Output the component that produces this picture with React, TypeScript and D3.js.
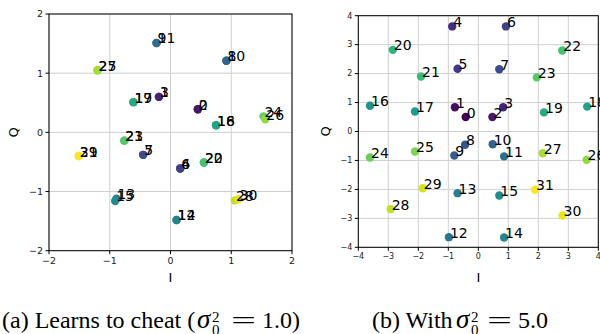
import React from "react";
import * as d3 from "d3";

const W = 600;
const H = 334;

// (a) sigma0^2 = 1.0 : points come in pairs
const leftI = [0.45, -0.19, 0.45, -0.19, 0.16, -0.45, 0.16, -0.45, 0.92, -0.23, 0.92, -0.23, 0.1, -0.89, 0.1, -0.91,
  0.75, -0.61, 0.75, -0.61, 0.55, -0.76, 0.55, -0.76, 1.53, -1.2, 1.56, -1.2, 1.06, -1.51, 1.12, -1.51];
const leftQ = [0.39, 0.6, 0.39, 0.6, -0.61, -0.38, -0.61, -0.38, 1.21, 1.51, 1.21, 1.51, -1.48, -1.12, -1.48, -1.16,
  0.12, 0.51, 0.12, 0.51, -0.51, -0.14, -0.51, -0.14, 0.27, 1.05, 0.22, 1.05, -1.15, -0.4, -1.13, -0.4];

// (b) sigma0^2 = 5.0
const rightI = [-0.42, -0.78, 0.47, 0.83, -0.87, -0.69, 0.92, 0.7, -0.44, -0.8, 0.48, 0.86, -0.98, -0.69, 0.86, 0.7,
  -3.61, -2.11, 3.63, 2.19, -2.85, -1.91, 2.8, 1.95, -3.61, -2.11, 3.61, 2.15, -2.92, -1.85, 2.81, 1.89];
const rightQ = [0.5, 0.84, 0.5, 0.84, 3.63, 2.17, 3.63, 2.15, -0.46, -0.83, -0.44, -0.86, -3.65, -2.13, -3.66, -2.21,
  0.89, 0.69, 0.86, 0.66, 2.82, 1.9, 2.8, 1.87, -0.9, -0.69, -0.98, -0.75, -2.68, -1.96, -2.9, -2.01];

const leftTicks = [-2, -1, 0, 1, 2];
const rightTicks = [-4, -3, -2, -1, 0, 1, 2, 3, 4];

const fmt = (v: number) => (v < 0 ? "\u2212" + Math.abs(v) : String(v));

type PanelProps = {
  I: number[];
  Q: number[];
  ticks: number[];
  x: d3.ScaleLinear<number, number>;
  y: d3.ScaleLinear<number, number>;
  tickSize: number;
  yLabelX: number;
};

const Panel = ({ I, Q, ticks, x, y, tickSize, yLabelX }: PanelProps) => {
  const [x0, x1] = x.range();
  const [y0, y1] = y.range();
  const color = (i: number) => d3.interpolateViridis(i / (I.length - 1));
  return (
    <g>
      {ticks.map((t) => (
        <g key={"g" + t}>
          <line x1={x(t)} x2={x(t)} y1={y0} y2={y1} stroke="#cfcfcf" strokeWidth={1} />
          <line x1={x0} x2={x1} y1={y(t)} y2={y(t)} stroke="#cfcfcf" strokeWidth={1} />
        </g>
      ))}
      {I.map((v, i) => (
        <circle key={"c" + i} cx={x(v)} cy={y(Q[i])} r={4.2} fill={color(i)} />
      ))}
      {I.map((v, i) => (
        <text key={"t" + i} x={x(v) + 1} y={y(Q[i]) + 0.5} fontSize={14} fill="#000">
          {i}
        </text>
      ))}
      <rect x={x0} y={y1} width={x1 - x0} height={y0 - y1} fill="none" stroke="#000" strokeWidth={1} />
      {ticks.map((t) => (
        <g key={"k" + t} fontSize={tickSize} fill="#222">
          <line x1={x(t)} x2={x(t)} y1={y0} y2={y0 + 3.5} stroke="#000" />
          <text x={x(t)} y={y0 + 5 + tickSize * 0.85} textAnchor="middle">
            {fmt(t)}
          </text>
          <line x1={x0 - 3.5} x2={x0} y1={y(t)} y2={y(t)} stroke="#000" />
          <text x={x0 - 6} y={y(t) + tickSize * 0.35} textAnchor="end">
            {fmt(t)}
          </text>
        </g>
      ))}
      <text x={(x0 + x1) / 2} y={282} fontSize={13} textAnchor="middle">
        I
      </text>
      <text
        transform={`translate(${yLabelX},${(y0 + y1) / 2}) rotate(-90)`}
        fontSize={13}
        textAnchor="middle"
        dominantBaseline="middle"
      >
        Q
      </text>
    </g>
  );
};

// caption with sigma_0^2 typeset by hand
const Caption = ({ lead, x, sx, ex, vx, value }: { lead: string; x: number; sx: number; ex: number; vx: number; value: string }) => (
  <g fontFamily="Liberation Serif" fill="#000">
    <text x={x} y={328} fontSize={24}>{lead}</text>
    <text x={sx} y={328} fontSize={27} fontStyle="italic">σ</text>
    <text x={sx + 15} y={322} fontSize={15}>2</text>
    <text x={sx + 15} y={335} fontSize={15}>0</text>
    <text x={ex} y={328} fontSize={24} textLength={25} lengthAdjust="spacingAndGlyphs">=</text>
    <text x={vx} y={328} fontSize={24}>{value}</text>
  </g>
);

export default function App() {
  const xL = d3.scaleLinear().domain([-2, 2]).range([49, 292]);
  const yL = d3.scaleLinear().domain([-2, 2]).range([250.7, 14]);
  const xR = d3.scaleLinear().domain([-4, 4]).range([358.3, 598.3]);
  const yR = d3.scaleLinear().domain([-4, 4]).range([247.3, 15.7]);

  return (
    <svg
      width={W}
      height={H}
      style={{ position: "absolute", left: 0, top: 0, background: "#fff" }}
      fontFamily="DejaVu Sans"
    >
      <Panel I={leftI} Q={leftQ} ticks={leftTicks} x={xL} y={yL} tickSize={9.5} yLabelX={14} />
      <Panel I={rightI} Q={rightQ} ticks={rightTicks} x={xR} y={yR} tickSize={8} yLabelX={326} />
      <Caption lead="(a) Learns to cheat (" x={2} sx={197} ex={231} vx={262} value="1.0)" />
      <Caption lead="(b) With" x={372} sx={456} ex={487} vx={518} value="5.0" />
    </svg>
  );
}
